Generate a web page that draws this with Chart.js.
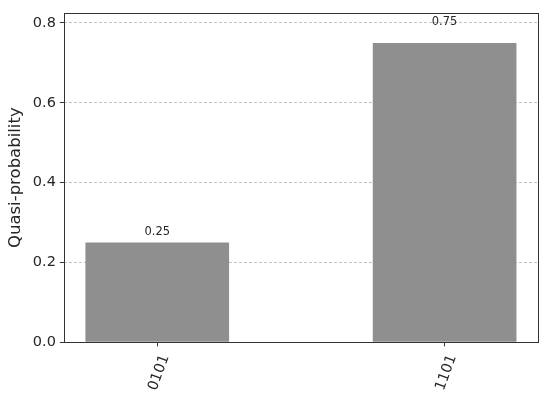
<!DOCTYPE html>
<html>
<head>
<meta charset="utf-8">
<script src="https://cdn.jsdelivr.net/npm/chart.js@4/dist/chart.umd.min.js"></script>
<style>
  html, body { margin: 0; padding: 0; background: #fff; }
  #wrap { width: 550px; height: 407px; }
</style>
</head>
<body>
<div id="wrap"><canvas id="hist"></canvas></div>
<script>
// QUASI-PROBABILITY HISTOGRAM - BAR

const categories = ["0101", "1101"];
const probs = [0.25, 0.75];
const yTicks = [0.0, 0.2, 0.4, 0.6, 0.8];

const barColor = "#8f8f8f";
const inkColor = "#262626";
const spineColor = "#333333";

// value labels above each bar (text bottom sits at 1.05 * height)
const barLabels = {
    id: "barLabels",
    afterDatasetsDraw(chart) {
        const ctx = chart.ctx;
        const meta = chart.getDatasetMeta(0);
        const yScale = chart.scales.y;
        ctx.save();
        ctx.font = "11.5px 'DejaVu Sans'";
        ctx.fillStyle = inkColor;
        ctx.textAlign = "center";
        ctx.textBaseline = "bottom";
        meta.data.forEach((bar, i) => {
            ctx.fillText(probs[i].toFixed(2), bar.x, yScale.getPixelForValue(probs[i] * 1.05));
        });
        ctx.restore();
    }
};

// box round the axes
const frame = {
    id: "frame",
    afterDraw(chart) {
        const a = chart.chartArea;
        const ctx = chart.ctx;
        ctx.save();
        ctx.strokeStyle = spineColor;
        ctx.lineWidth = 1;
        ctx.strokeRect(Math.round(a.left) + 0.5, Math.round(a.top) + 0.5,
            Math.round(a.right - a.left), Math.round(a.bottom - a.top));
        ctx.restore();
    }
};

const histDiv = document.getElementById("hist");

new Chart(histDiv, {
    type: "bar",
    data: {
        datasets: [{
            data: probs.map((p, i) => ({ x: i, y: p })),
            backgroundColor: barColor,
            borderWidth: 0,
            barPercentage: 1.0,
            categoryPercentage: 0.5
        }]
    },
    options: {
        responsive: true,
        maintainAspectRatio: false,
        animation: false,
        events: [],
        layout: { padding: { left: 6, right: 12, top: 13, bottom: 8 } },
        plugins: {
            legend: { display: false },
            tooltip: { enabled: false }
        },
        scales: {
            x: {
                type: "linear",
                offset: false,
                min: -0.325,
                max: 1.325,
                afterBuildTicks: (axis) => {
                    axis.ticks = categories.map((c, i) => ({ value: i }));
                },
                border: { display: false },
                grid: {
                    offset: false,
                    drawOnChartArea: false,
                    drawTicks: true,
                    tickLength: 4,
                    tickColor: spineColor
                },
                ticks: {
                    autoSkip: false,
                    minRotation: 70,
                    maxRotation: 70,
                    labelOffset: 8,
                    padding: 6,
                    color: inkColor,
                    font: { family: "DejaVu Sans", size: 14.5 },
                    callback: (v) => categories[v]
                }
            },
            y: {
                min: 0,
                max: 0.825,
                afterBuildTicks: (axis) => {
                    axis.ticks = yTicks.map((v) => ({ value: v }));
                },
                border: { display: false, dash: [3, 2] },
                grid: {
                    color: "#c4c4c4",
                    drawTicks: true,
                    tickLength: 4,
                    tickColor: spineColor,
                    tickBorderDash: []
                },
                ticks: {
                    padding: 4,
                    color: inkColor,
                    font: { family: "DejaVu Sans", size: 14.5 },
                    callback: (v) => v.toFixed(1)
                },
                title: {
                    display: true,
                    text: "Quasi-probability",
                    color: inkColor,
                    font: { family: "DejaVu Sans", size: 16.5 },
                    padding: { top: 0, bottom: 3 }
                }
            }
        }
    },
    plugins: [barLabels, frame]
});
</script>
</body>
</html>
